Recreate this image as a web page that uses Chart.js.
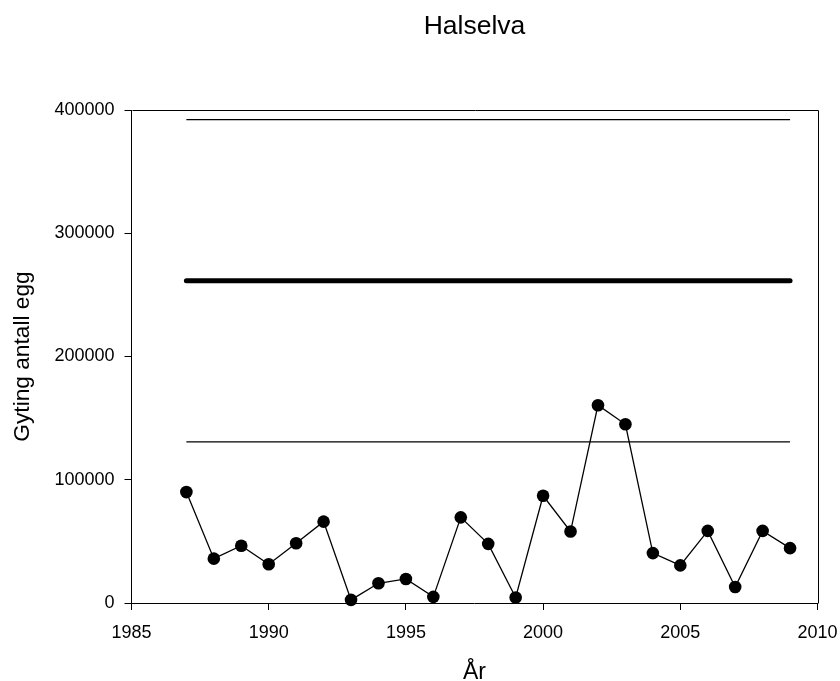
<!DOCTYPE html>
<html>
<head>
<meta charset="utf-8">
<script src="https://cdn.jsdelivr.net/npm/chart.js@4/dist/chart.umd.min.js"></script>
<style>
  html, body { margin: 0; padding: 0; background: #ffffff; }
  #wrap { width: 840px; height: 681px; }
</style>
</head>
<body>
<div id="wrap"><canvas id="c" width="840" height="681"></canvas></div>
<script>
// ---- data ----
const chartTitle = "Halselva";
const xAxisTitle = "År";
const yAxisTitle = "Gyting antall egg";
const years = [1987, 1988, 1989, 1990, 1991, 1992, 1993, 1994, 1995, 1996, 1997, 1998,
               1999, 2000, 2001, 2002, 2003, 2004, 2005, 2006, 2007, 2008, 2009];
const eggs  = [90000, 36000, 46500, 31500, 48500, 66000, 2500, 16000, 19500, 5000, 69500, 48000,
               4500, 87000, 58000, 160500, 145000, 40500, 30500, 58500, 13000, 58500, 44500];
const refYears = [1987, 2009];
const targetLine = [261500, 261500];
const upperLine  = [392250, 392250];
const lowerLine  = [130750, 130750];
const xTickValues = [1985, 1990, 1995, 2000, 2005, 2010];
const yTickValues = [0, 100000, 200000, 300000, 400000];

const FONT = "Arial, 'Liberation Sans', Helvetica, sans-serif";

function pts(xs, ys) { return xs.map((x, i) => ({ x: x, y: ys[i] })); }

const framePlugin = {
  id: 'frameAndTitles',
  afterDraw(chart) {
    const { ctx, chartArea: a } = chart;
    ctx.save();
    ctx.strokeStyle = '#000';
    ctx.lineWidth = 1;
    ctx.beginPath();
    ctx.moveTo(Math.round(a.left) + 0.5, Math.round(a.top) + 0.5);
    ctx.lineTo(Math.round(a.right) + 0.5, Math.round(a.top) + 0.5);
    ctx.lineTo(Math.round(a.right) + 0.5, Math.round(a.bottom) + 0.5);
    ctx.stroke();
    ctx.fillStyle = '#000';
    const cx = (a.left + a.right) / 2;
    ctx.textAlign = 'center';
    ctx.textBaseline = 'alphabetic';
    ctx.font = "26.5px " + FONT;
    ctx.fillText(chartTitle, cx, 34);
    ctx.font = "23px " + FONT;
    ctx.fillText(xAxisTitle, cx, 679);
    ctx.save();
    ctx.translate(28.5, (a.top + a.bottom) / 2);
    ctx.rotate(-Math.PI / 2);
    ctx.font = "22.7px " + FONT;
    ctx.fillText(yAxisTitle, 0, 0);
    ctx.restore();
    ctx.restore();
  }
};

new Chart(document.getElementById('c'), {
  type: 'line',
  data: {
    datasets: [
      {
        label: 'upper', data: pts(refYears, upperLine),
        borderColor: '#000', borderWidth: 1.2, pointRadius: 0, fill: false
      },
      {
        label: 'target', data: pts(refYears, targetLine),
        borderColor: '#000', borderWidth: 5, borderCapStyle: 'round', pointRadius: 0, fill: false
      },
      {
        label: 'lower', data: pts(refYears, lowerLine),
        borderColor: '#000', borderWidth: 1.2, pointRadius: 0, fill: false
      },
      {
        label: 'eggs', data: pts(years, eggs),
        borderColor: '#000', borderWidth: 1.3,
        pointRadius: 6.3, pointBackgroundColor: '#000', pointBorderColor: '#000', pointBorderWidth: 0,
        fill: false, tension: 0, clip: false
      }
    ]
  },
  options: {
    responsive: false,
    animation: false,
    devicePixelRatio: 1,
    layout: { padding: { top: 110, right: 22.5, left: 0, bottom: 0 } },
    plugins: { legend: { display: false }, title: { display: false }, tooltip: { enabled: false } },
    scales: {
      x: {
        type: 'linear', min: 1985, max: 2010,
        afterFit(scale) { scale.height = 78; scale.paddingLeft = 0; scale.paddingRight = 0; },
        afterBuildTicks(scale) { scale.ticks = xTickValues.map(v => ({ value: v })); },
        ticks: { color: '#000', font: { family: FONT, size: 18 }, padding: 12, maxRotation: 0,
                 callback: v => String(v) },
        grid: { drawOnChartArea: false, drawTicks: true, tickLength: 7, color: '#000', lineWidth: 1 },
        border: { display: true, color: '#000', width: 1 }
      },
      y: {
        type: 'linear', min: 0, max: 400000,
        afterFit(scale) { scale.width = 131.5; scale.paddingTop = 0; scale.paddingBottom = 0; },
        afterBuildTicks(scale) { scale.ticks = yTickValues.map(v => ({ value: v })); },
        ticks: { color: '#000', font: { family: FONT, size: 18 }, padding: 10,
                 callback: v => String(v) },
        grid: { drawOnChartArea: false, drawTicks: true, tickLength: 7, color: '#000', lineWidth: 1 },
        border: { display: true, color: '#000', width: 1 }
      }
    }
  },
  plugins: [framePlugin]
});
</script>
</body>
</html>
